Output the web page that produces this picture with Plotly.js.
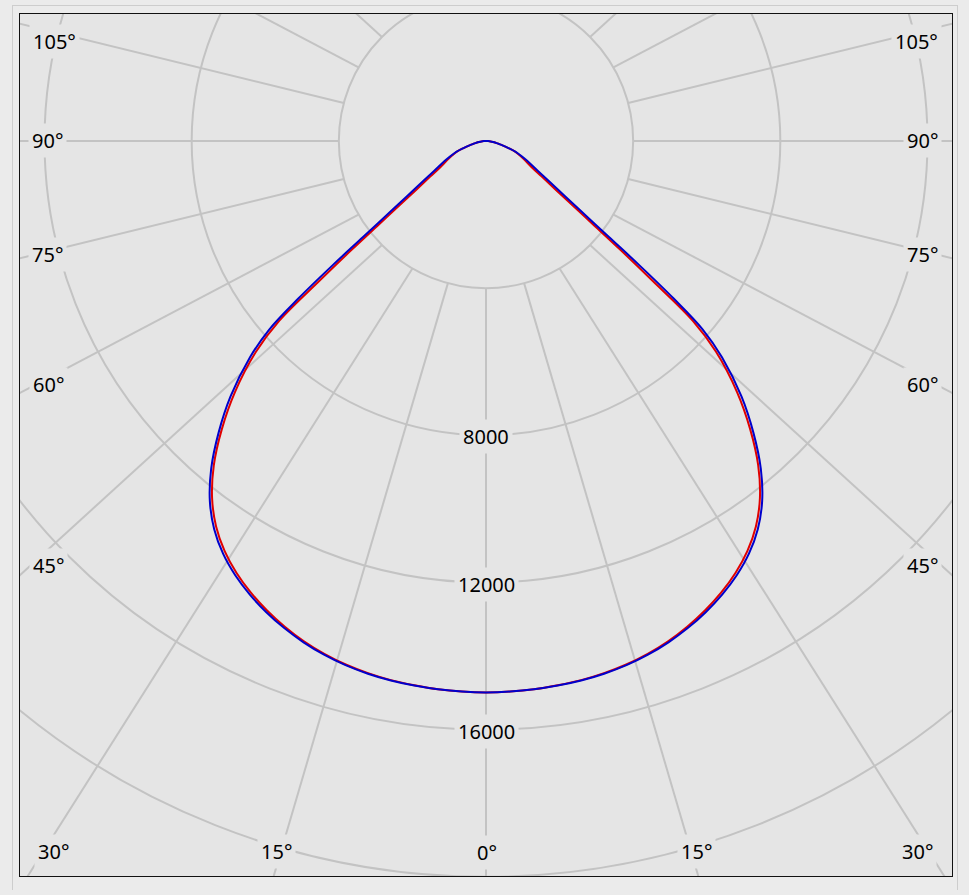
<!DOCTYPE html>
<html><head><meta charset="utf-8">
<script src="https://cdn.plot.ly/plotly-3.0.1.min.js"></script>
<style>
html,body{margin:0;padding:0;background:#ebebeb;width:969px;height:895px;overflow:hidden;}
#frame{position:absolute;left:12px;top:5px;width:946px;height:885px;border-left:1px solid #cdcdcd;border-top:1px solid #cdcdcd;border-right:1px solid #cdcdcd;box-sizing:border-box;}
#box{position:absolute;left:19px;top:13px;width:934px;height:864px;border:1px solid #111;box-sizing:border-box;overflow:hidden;background:#e5e5e5;}
#chart{position:absolute;left:-417px;top:-756px;width:1766px;height:1766px;}
</style></head><body>
<div id="frame"></div>
<div id="box"><div id="chart"></div></div>
<script>
// ---------------- data ----------------
// gamma angle (deg from nadir) and luminous intensity (cd)
const gammaDeg = [0,2.5,5,7.5,10,12.5,15,17.5,20,22.5,25,27.5,30,32.5,35,37.5,40,42.5,45,47.5,49,50,51,52,53,55,57.5,60,65,70,72.5,75,77.5,80,82.5,85,87.5,90];
const intensityC0C180 = [14990,14980,14960,14920,14880,14815,14730,14615,14470,14290,14080,13840,13560,13220,12790,12230,11510,10630,9650,8480,7450,5900,4700,3740,3100,2330,1790,1450,1100,830,640,480,350,265,190,125,60,0];
const intensityC90C270 = [14990,14980,14960,14930,14890,14830,14750,14640,14500,14330,14130,13900,13630,13300,12880,12330,11620,10760,9820,8700,7800,6650,5350,4250,3530,2640,2015,1630,1190,860,640,480,350,265,190,125,60,0];
const radialTicks = [4000,8000,12000,16000,20000,24000];
const labeledRings = [8000,12000,16000];
const ringLabels = ['8000','12000','16000'];
const spokeAngles = [0,15,30,45,60,75,90,105,120,135,150,165,180,195,210,225,240,255,270,285,300,315,330,345];
const angleLabels = ['105°','90°','75°','60°','45°','30°','15°','0°','15°','30°','45°','60°','75°','90°','105°'];

// ---------------- layout geometry ----------------
const FIG = 1766, RPX = 883, RMAX = 24000;
const OFF_X = 20 - 417, OFF_Y = 14 - 756;     // page position of figure origin
const CX = OFF_X + RPX, CY = OFF_Y + RPX;      // page position of pole
const SPOKE_FLAT = 0.925;                      // outer spoke ends lie on a slightly flattened ellipse
// page pixel centres of the angle labels (layout only)
const angleLabelPos = [[54,41.5],[47,140.5],[47,254.5],[48,384.5],[48,565],[53,851.5],[276.5,851.5],[486.5,852],[696,851.5],[917,851.5],[922.5,565],[922,384.5],[922.5,254.5],[922.5,140.5],[916,41.5]];

function pageToPaper(px, py){ return [(px - OFF_X)/FIG, 1 - (py - OFF_Y)/FIG]; }
function mirrorTheta(g){ return g.slice().reverse().map(v => (360 - v) % 360).concat(g.slice(1)); }
function mirrorR(v){ return v.slice().reverse().concat(v.slice(1)); }

// spokes: from first ring outwards, end point on a flattened ellipse beyond the frame
const spokeR = [], spokeT = [];
spokeAngles.forEach(a => {
  const rad = a * Math.PI / 180;
  const ex = Math.sin(rad) * 1000, ey = Math.cos(rad) * 1000 * SPOKE_FLAT;
  const rEnd = Math.hypot(ex, ey) / RPX * RMAX;
  const tEnd = Math.atan2(ex, ey) * 180 / Math.PI;
  spokeR.push(radialTicks[0], rEnd, null);
  spokeT.push(a, (tEnd + 360) % 360, null);
});

const FONT = {family:'"Noto Sans", "Liberation Sans", sans-serif', size:20, color:'#000'};
const BG = '#e5e5e5';

const traces = [
  {type:'scatterpolar', mode:'lines', r:spokeR, theta:spokeT, line:{color:'#c3c3c3', width:2}, hoverinfo:'skip', connectgaps:false},
  {type:'scatterpolar', mode:'lines', r:mirrorR(intensityC0C180), theta:mirrorTheta(gammaDeg), line:{color:'#e00000', width:2, shape:'spline', smoothing:1}},
  {type:'scatterpolar', mode:'lines', r:mirrorR(intensityC90C270), theta:mirrorTheta(gammaDeg), line:{color:'#0000cc', width:2, shape:'spline', smoothing:1}}
];

const annotations = [];
angleLabels.forEach((t, i) => {
  const p = pageToPaper(angleLabelPos[i][0], angleLabelPos[i][1]);
  annotations.push({x:p[0], y:p[1], xref:'paper', yref:'paper', text:t, showarrow:false, xanchor:'center', yanchor:'middle', bgcolor:BG, borderpad:3, font:FONT});
});
labeledRings.forEach((r, i) => {
  const p = pageToPaper(CX, CY + r / RMAX * RPX + 1.5);
  annotations.push({x:p[0], y:p[1], xref:'paper', yref:'paper', text:ringLabels[i], showarrow:false, xanchor:'center', yanchor:'middle', bgcolor:BG, borderpad:3, font:FONT});
});

const layout = {
  width:FIG, height:FIG, autosize:false, margin:{l:0,r:0,t:0,b:0,pad:0},
  paper_bgcolor:BG, showlegend:false,
  polar:{
    domain:{x:[0,1], y:[0,1]}, bgcolor:BG,
    radialaxis:{range:[0,RMAX], tickvals:radialTicks, showticklabels:false, ticks:'', showline:false, gridcolor:'#c3c3c3', gridwidth:2, layer:'below traces'},
    angularaxis:{rotation:-90, direction:'counterclockwise', showgrid:false, showline:false, showticklabels:false, ticks:''}
  },
  annotations:annotations
};
Plotly.newPlot('chart', traces, layout, {staticPlot:true, displayModeBar:false});
</script>
</body></html>
